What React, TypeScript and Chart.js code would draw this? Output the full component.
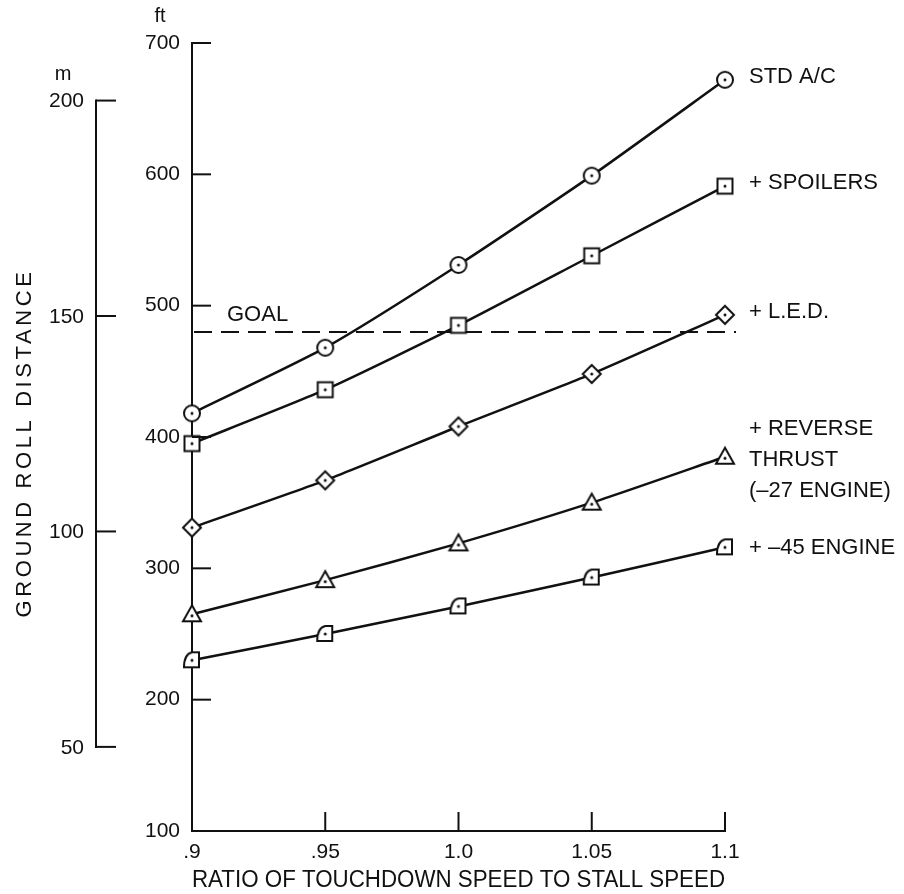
import { useEffect, useRef } from "react";
import { Chart, registerables } from "chart.js";

Chart.register(...registerables);

// ---- data ----
const ratios = [0.9, 0.95, 1.0, 1.05, 1.1];
const xTickLabels = [".9", ".95", "1.0", "1.05", "1.1"];
const ftTicks = [100, 200, 300, 400, 500, 600, 700];
const mTicks = [50, 100, 150, 200];
const stdAC = [418, 468, 531, 599, 672];
const spoilers = [395, 436, 485, 538, 591];
const led = [331, 367, 408, 448, 493];
const reverseThrust = [265, 291, 319, 350, 385];
const engine45 = [230, 250, 271, 293, 316];
const goalFt = 480;
const seriesNames = ["STD A/C", "+ SPOILERS", "+ L.E.D.", "+ REVERSE THRUST (–27 ENGINE)", "+ –45 ENGINE"];
const seriesLabelLines = [["STD A/C"], ["+ SPOILERS"], ["+ L.E.D."], ["+ REVERSE", "THRUST", "(–27 ENGINE)"], ["+ –45 ENGINE"]];
const markerKinds = ["circle", "square", "diamond", "triangle", "quarter"];
const FT_TO_M = 0.3048;

const FONT = "'Liberation Sans', Arial, Helvetica, sans-serif";
const INK = "#111";

function makeMarker(kind: string): HTMLCanvasElement {
  const s = 24;
  const c = document.createElement("canvas");
  c.width = s;
  c.height = s;
  const g = c.getContext("2d")!;
  const m = s / 2;
  g.lineWidth = 2;
  g.strokeStyle = INK;
  g.fillStyle = "#fff";
  g.beginPath();
  if (kind === "circle") {
    g.arc(m, m, 8, 0, Math.PI * 2);
  } else if (kind === "square") {
    g.rect(m - 7.5, m - 7.5, 15, 15);
  } else if (kind === "diamond") {
    g.moveTo(m, m - 9);
    g.lineTo(m + 9, m);
    g.lineTo(m, m + 9);
    g.lineTo(m - 9, m);
    g.closePath();
  } else if (kind === "triangle") {
    g.moveTo(m, m - 9);
    g.lineTo(m + 9, m + 7);
    g.lineTo(m - 9, m + 7);
    g.closePath();
  } else {
    g.moveTo(m - 8, m + 7);
    g.lineTo(m + 7, m + 7);
    g.lineTo(m + 7, m - 8);
    g.lineTo(m, m - 8);
    g.quadraticCurveTo(m - 8, m - 6, m - 8, m + 7);
    g.closePath();
  }
  g.fill();
  g.stroke();
  g.beginPath();
  g.arc(m, kind === "triangle" ? m + 1.5 : m, 1.5, 0, Math.PI * 2);
  g.fillStyle = INK;
  g.fill();
  return c;
}

const overlayPlugin = {
  id: "overlay",
  beforeDatasetsDraw(chart: any) {
    const { ctx, scales } = chart;
    const x = scales.x;
    const y = scales.y;
    const gy = y.getPixelForValue(goalFt);
    ctx.save();
    ctx.strokeStyle = INK;
    ctx.lineWidth = 2;
    ctx.setLineDash([18, 9]);
    ctx.beginPath();
    ctx.moveTo(x.getPixelForValue(0.9) + 2, gy);
    ctx.lineTo(x.getPixelForValue(1.1) + 11, gy);
    ctx.stroke();
    ctx.setLineDash([]);
    ctx.fillStyle = INK;
    ctx.font = `22px ${FONT}`;
    ctx.textAlign = "left";
    ctx.textBaseline = "middle";
    ctx.fillText("GOAL", x.getPixelForValue(0.9) + 35, gy - 17);
    ctx.restore();
  },
  afterDraw(chart: any) {
    const { ctx, scales } = chart;
    const x = scales.x;
    const y = scales.y;
    const m = scales.m;
    ctx.save();
    ctx.strokeStyle = INK;
    ctx.fillStyle = INK;
    ctx.lineWidth = 2;
    // inward ticks on the ft axis
    const axX = x.getPixelForValue(0.9);
    ftTicks.forEach((v) => {
      if (v === ftTicks[0]) return;
      const py = y.getPixelForValue(v);
      ctx.beginPath();
      ctx.moveTo(axX, py);
      ctx.lineTo(axX + 19, py);
      ctx.stroke();
    });
    // inward ticks on the x axis
    const axY = y.getPixelForValue(ftTicks[0]);
    ratios.forEach((v, i) => {
      if (i === 0) return;
      const px = x.getPixelForValue(v);
      ctx.beginPath();
      ctx.moveTo(px, axY);
      ctx.lineTo(px, axY - 19);
      ctx.stroke();
    });
    // meter axis
    const mX = 96;
    const mTop = m.getPixelForValue(mTicks[mTicks.length - 1]);
    const mBot = m.getPixelForValue(mTicks[0]);
    ctx.beginPath();
    ctx.moveTo(mX, mTop - 1);
    ctx.lineTo(mX, mBot + 1);
    ctx.stroke();
    ctx.font = `21px ${FONT}`;
    ctx.textAlign = "right";
    ctx.textBaseline = "middle";
    mTicks.forEach((v) => {
      const py = m.getPixelForValue(v);
      ctx.beginPath();
      ctx.moveTo(mX, py);
      ctx.lineTo(mX + 20, py);
      ctx.stroke();
      ctx.fillText(String(v), mX - 12, py + 1);
    });
    // unit labels
    ctx.font = `20px ${FONT}`;
    ctx.textAlign = "center";
    ctx.fillText("m", 63, mTop - 26);
    ctx.fillText("ft", 160, y.getPixelForValue(700) - 27);
    // y title
    ctx.save();
    ctx.translate(25, 443);
    ctx.rotate(-Math.PI / 2);
    ctx.font = `22px ${FONT}`;
    (ctx as any).letterSpacing = "3.6px";
    ctx.textAlign = "center";
    ctx.textBaseline = "middle";
    ctx.fillText("GROUND ROLL DISTANCE", 0, 0);
    ctx.restore();
    // series labels
    ctx.font = `22px ${FONT}`;
    ctx.textAlign = "left";
    ctx.textBaseline = "middle";
    const lx = x.getPixelForValue(1.1) + 24;
    chart.data.datasets.forEach((ds: any, i: number) => {
      const last = ds.data[ds.data.length - 1];
      const py = y.getPixelForValue(last.y);
      const lines = seriesLabelLines[i];
      const shift = lines.length > 1 ? 3 : i === seriesLabelLines.length - 1 ? 1 : -3;
      const y0 = py - ((lines.length - 1) / 2) * 31 + shift;
      lines.forEach((t: string, k: number) => ctx.fillText(t, lx, y0 + k * 31));
    });
    ctx.restore();
  },
};

export default function App() {
  const ref = useRef<HTMLCanvasElement | null>(null);

  useEffect(() => {
    if (!ref.current) return;
    const seriesValues = [stdAC, spoilers, led, reverseThrust, engine45];
    const datasets = seriesValues.map((vals, i) => ({
      label: seriesNames[i],
      data: vals.map((v, k) => ({ x: ratios[k], y: v })),
      borderColor: INK,
      borderWidth: 2.5,
      pointStyle: makeMarker(markerKinds[i]),
      pointRadius: 9,
      tension: 0.2,
      fill: false,
      clip: false,
    }));
    const tickFont = { family: FONT, size: 21 };
    const chart = new Chart(ref.current, {
      type: "line",
      data: { datasets },
      options: {
        animation: false,
        responsive: false,
        devicePixelRatio: 1,
        layout: { padding: { left: 0, right: 179, top: 43, bottom: 0 } },
        plugins: { legend: { display: false }, tooltip: { enabled: false } },
        scales: {
          x: {
            type: "linear",
            position: "bottom",
            min: 0.9,
            max: 1.1,
            afterBuildTicks: (s: any) => {
              s.ticks = ratios.map((v) => ({ value: v }));
            },
            afterFit: (s: any) => {
              s.height = 63;
            },
            grid: { display: false, drawTicks: false },
            border: { display: true, color: INK, width: 2 },
            ticks: {
              autoSkip: false,
              maxRotation: 0,
              padding: 9,
              color: INK,
              font: tickFont,
              callback: (v: any) => {
                const idx = ratios.findIndex((r) => Math.abs(r - Number(v)) < 1e-6);
                return idx >= 0 ? xTickLabels[idx] : "";
              },
            },
            title: {
              display: true,
              text: "RATIO OF TOUCHDOWN SPEED TO STALL SPEED",
              color: INK,
              font: { family: FONT, size: 23 },
              padding: { top: 0, bottom: 0 },
            },
          },
          y: {
            type: "linear",
            position: "left",
            min: 100,
            max: 700,
            afterBuildTicks: (s: any) => {
              s.ticks = ftTicks.map((v) => ({ value: v }));
            },
            afterFit: (s: any) => {
              s.width = 192;
            },
            grid: { display: false, drawTicks: false },
            border: { display: true, color: INK, width: 2 },
            ticks: { padding: 12, color: INK, font: tickFont },
          },
          m: {
            type: "linear",
            position: "left",
            display: false,
            min: 100 * FT_TO_M,
            max: 700 * FT_TO_M,
          },
        },
      } as any,
      plugins: [overlayPlugin],
    } as any);
    return () => chart.destroy();
  }, []);

  return (
    <div style={{ position: "fixed", left: 0, top: 0, width: 904, height: 894, background: "#fff" }}>
      <canvas ref={ref} width={904} height={894} style={{ display: "block" }} />
    </div>
  );
}
